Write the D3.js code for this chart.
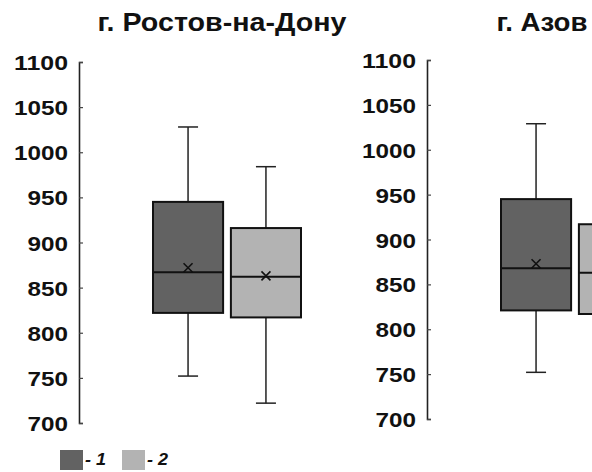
<!DOCTYPE html>
<html>
<head>
<meta charset="utf-8">
<script src="https://cdn.jsdelivr.net/npm/d3@7"></script>
<style>
  body { margin: 0; background: #fff; }
  text { font-family: 'Liberation Sans', Arial, sans-serif; font-weight: bold; fill: #111; }
</style>
</head>
<body>
<svg width="592" height="472"></svg>
<script>
// Data: min, q1, median, mean, q3, max
const cities = ['г. Ростов-на-Дону', 'г. Азов']
const groups = ['1', '2']
const rostov1 = [752, 822, 867, 872, 945, 1028]
const rostov2 = [722, 817, 862, 863, 916, 984]
const azov1 = [752, 821, 868, 873, 945, 1029]
const azov2 = [722, 817, 863, 863, 917, 984]
const yTicks = [700, 750, 800, 850, 900, 950, 1000, 1050, 1100]

const colors = {'1': '#626262', '2': '#b3b3b3'}
const series = [[rostov1, rostov2], [azov1, azov2]]

// Layout of the two panels (axis position, vertical extent, title)
const panels = [
  {axisX: 79, top: 62, bottom: 423, titleX: 222, titleW: 249},
  {axisX: 427, top: 60, bottom: 419, titleX: 542, titleW: 91}
]

const svg = d3.select('svg')

panels.forEach((p, i) => {
  const y = d3.scaleLinear().domain([700, 1100]).range([p.bottom, p.top])
  const x = d3.scaleBand().domain(groups)
    .range([p.axisX + 74, p.axisX + 222])
    .paddingInner(0.1)

  const g = svg.append('g')

  // title
  g.append('text')
    .attr('x', p.titleX).attr('y', 31)
    .attr('text-anchor', 'middle')
    .attr('font-size', 25)
    .attr('textLength', p.titleW)
    .attr('lengthAdjust', 'spacingAndGlyphs')
    .text(cities[i])

  // axis, ticks pointing inward
  const ax = g.append('g')
    .attr('transform', `translate(${p.axisX},0)`)
    .call(d3.axisRight(y).tickValues(yTicks).tickFormat(d3.format('d')).tickSize(4).tickSizeOuter(4))
  ax.select('.domain').attr('stroke', '#222').attr('stroke-width', 1.6)
  ax.selectAll('.tick line').attr('stroke', '#444').attr('stroke-width', 1.2)
  ax.selectAll('.tick text')
    .attr('x', -11)
    .attr('dy', '0.36em')
    .attr('text-anchor', 'end')
    .attr('fill', '#111')
    .style('font-family', "'Liberation Sans', Arial, sans-serif")
    .style('font-weight', 'bold')
    .attr('font-size', 21)
    .attr('textLength', d => String(d).length * 13.5)
    .attr('lengthAdjust', 'spacingAndGlyphs')

  groups.forEach((grp, j) => {
    const [mn, q1, med, mean, q3, mx] = series[i][j]
    const x0 = x(grp)
    const bw = x.bandwidth()
    const cx = x0 + bw / 2
    const bg = g.append('g')

    // whiskers
    bg.append('line')
      .attr('x1', cx).attr('x2', cx).attr('y1', y(mx)).attr('y2', y(mn))
      .attr('stroke', '#222').attr('stroke-width', 1.5)
    ;[mn, mx].forEach(v => {
      bg.append('line')
        .attr('x1', cx - 10).attr('x2', cx + 10).attr('y1', y(v)).attr('y2', y(v))
        .attr('stroke', '#222').attr('stroke-width', 1.5)
    })

    // box
    bg.append('rect')
      .attr('x', x0).attr('y', y(q3))
      .attr('width', bw).attr('height', y(q1) - y(q3))
      .attr('fill', colors[grp]).attr('stroke', '#111').attr('stroke-width', 2)

    // median
    bg.append('line')
      .attr('x1', x0).attr('x2', x0 + bw).attr('y1', y(med)).attr('y2', y(med))
      .attr('stroke', '#111').attr('stroke-width', 2)

    // mean marker
    const s = 4.5, my = y(mean)
    bg.append('path')
      .attr('d', `M${cx - s},${my - s}L${cx + s},${my + s}M${cx - s},${my + s}L${cx + s},${my - s}`)
      .attr('stroke', '#111').attr('stroke-width', 1.6)
  })
})

// legend
const legend = svg.append('g')
const lx = d3.scaleOrdinal().domain(groups).range([60, 122])
groups.forEach(grp => {
  legend.append('rect')
    .attr('x', lx(grp)).attr('y', 450)
    .attr('width', 23).attr('height', 20)
    .attr('fill', colors[grp])
  legend.append('text')
    .attr('x', lx(grp) + 25).attr('y', 465)
    .attr('font-size', 17)
    .attr('font-style', 'italic')
    .attr('textLength', 21)
    .attr('lengthAdjust', 'spacingAndGlyphs')
    .text('- ' + grp)
})
</script>
</body>
</html>
